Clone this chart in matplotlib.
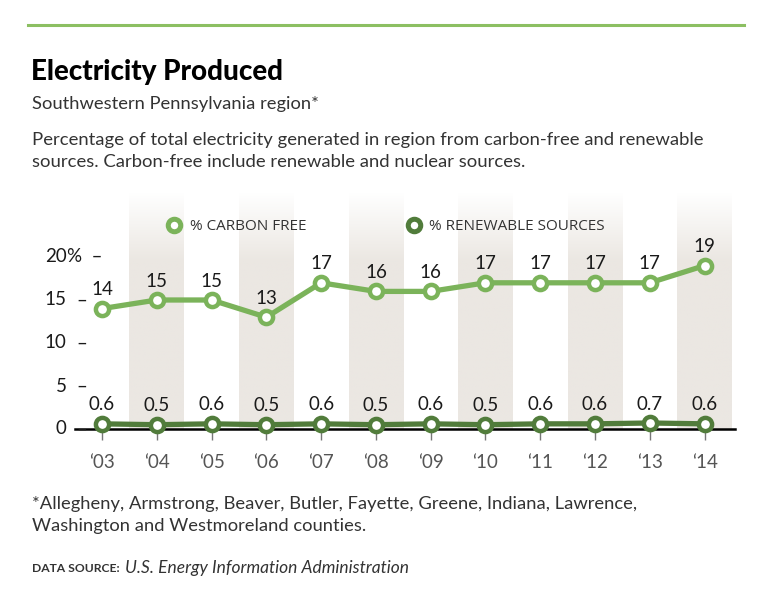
import numpy as np
import matplotlib.pyplot as plt
from matplotlib.colors import LinearSegmentedColormap
from matplotlib.lines import Line2D

plt.rcParams['font.family'] = ['Lato', 'DejaVu Sans']

years = ["\u201803", "\u201804", "\u201805", "\u201806", "\u201807", "\u201808",
         "\u201809", "\u201810", "\u201811", "\u201812", "\u201813", "\u201814"]
carbon_free = [14, 15, 15, 13, 17, 16, 16, 17, 17, 17, 17, 19]
renewable = [0.6, 0.5, 0.6, 0.5, 0.6, 0.5, 0.6, 0.5, 0.6, 0.6, 0.7, 0.6]
carbon_labels = ["14", "15", "15", "13", "17", "16", "16", "17", "17", "17", "17", "19"]
renew_labels = ["0.6", "0.5", "0.6", "0.5", "0.6", "0.5", "0.6", "0.5", "0.6", "0.6", "0.7", "0.6"]
yticks = [0, 5, 10, 15, 20]

light_green = "#7bb35a"
dark_green = "#517c3b"
stripe = "#ebe7e2"
ink = "#1a1a1a"

W, H = 768, 598
fig = plt.figure(figsize=(W / 100, H / 100), dpi=100)

def fx(px):
    return px / W

def fy(py):
    return 1 - py / H

# top rule
fig.add_artist(Line2D([fx(28), fx(744)], [fy(25), fy(25)], color="#8cbf62", lw=2.2))

fig.text(fx(31), fy(72), "Electricity Produced", fontsize=20, fontweight="black",
         color="black", va="center")
fig.text(fx(32), fy(104), "Southwestern Pennsylvania region*", fontsize=13.2,
         color="#333333", va="center")
fig.text(fx(32), fy(151),
         "Percentage of total electricity generated in region from carbon-free and renewable\n"
         "sources. Carbon-free include renewable and nuclear sources.",
         fontsize=13.3, color="#333333", va="center", linespacing=1.4)

ax = fig.add_axes([fx(74.6), fy(429), fx(732) - fx(74.6), (429 - 192.5) / H])
ytop = 27.5
x = np.arange(len(years))

# shaded columns with a fade at the top
cmap = LinearSegmentedColormap.from_list("fade", ["white", stripe])
grad = np.clip((ytop - np.linspace(0, ytop, 200)) / (ytop - 19.5), 0, 1)
for i in x[1::2]:
    ax.imshow(grad[:, None], extent=[i - 0.5, i + 0.5, 0, ytop], origin="lower",
              aspect="auto", cmap=cmap, vmin=0, vmax=1, zorder=0)

ax.set_xlim(-0.5, len(years) - 0.5)
ax.set_ylim(0, ytop)
for s in ax.spines.values():
    s.set_visible(False)

ax.axhline(0, xmax=1.005, color="black", lw=1.8, zorder=2, clip_on=False)

mk = dict(marker="o", markersize=9.5, markeredgewidth=3.2, markerfacecolor="white",
          lw=3.8, clip_on=False, zorder=4)
ax.plot(x, carbon_free, color=light_green, markeredgecolor=light_green, **mk)
ax.plot(x, renewable, color=dark_green, markeredgecolor=dark_green, **mk)

for xi, v, lab in zip(x, carbon_free, carbon_labels):
    ax.annotate(lab, (xi, v), xytext=(0, 7.5), textcoords="offset points",
                ha="center", va="bottom", fontsize=13.5, color=ink)
for xi, v, lab in zip(x, renewable, renew_labels):
    ax.annotate(lab, (xi, v), xytext=(0, 7.5), textcoords="offset points",
                ha="center", va="bottom", fontsize=13.5, color=ink)

ax.set_xticks(x)
ax.set_xticklabels(years, fontsize=13.5, color="#555555")
ax.tick_params(axis="x", length=8, width=1, color="#777777", pad=10)
ax.set_yticks([])

ytr = ax.get_yaxis_transform()
for v in yticks:
    ax.text(-0.012, v, str(v), transform=ytr, ha="right", va="center",
            fontsize=13.5, color=ink)
    if v == 20:
        ax.text(-0.012, v, "%  \u2013", transform=ytr, ha="left", va="center",
                fontsize=13.5, color=ink)
    else:
        ax.text(0.002, v, "\u2013", transform=ytr, ha="left", va="center",
                fontsize=13.5, color=ink)

handles = [Line2D([], [], linestyle="none", marker="o", markersize=9, markeredgewidth=3.6,
                  markerfacecolor="white", markeredgecolor=c) for c in (light_green, dark_green)]
ax.legend(handles, ["% CARBON FREE", "% RENEWABLE SOURCES"], ncol=2, frameon=False,
          loc="center", bbox_to_anchor=((386 - 74.6) / 657.4, (429 - 227) / (429 - 192.5)),
          handlelength=0.9, handletextpad=0.55, columnspacing=6.6,
          prop={"family": "Open Sans", "size": 11}, labelcolor="#333333")

fig.text(fx(32), fy(515),
         "*Allegheny, Armstrong, Beaver, Butler, Fayette, Greene, Indiana, Lawrence,\n"
         "Washington and Westmoreland counties.",
         fontsize=13.2, color="#333333", va="center", linespacing=1.4)
fig.text(fx(32), fy(569), "DATA SOURCE:", fontsize=8.7, fontweight="bold",
         color="#333333", va="center")
fig.text(fx(125), fy(568), "U.S. Energy Information Administration", fontsize=12.5,
         style="italic", color="#333333", va="center")

fig.savefig("out.png", dpi=100)
